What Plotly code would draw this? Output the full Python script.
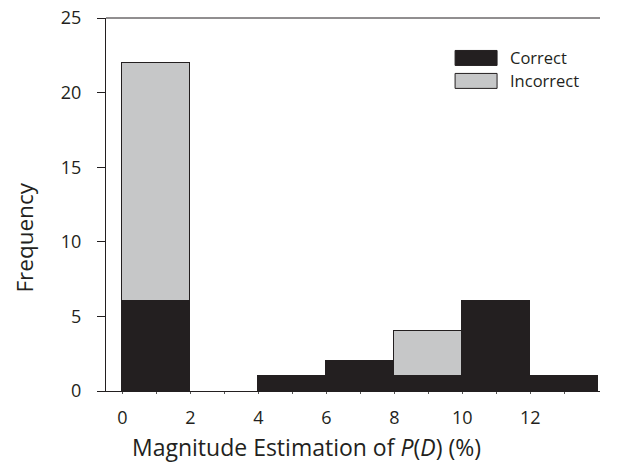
import plotly.graph_objects as go

bin_left = [0, 2, 4, 6, 8, 10, 12]
bin_width = 2
correct = [6, 0, 1, 2, 1, 6, 1]
incorrect = [16, 0, 0, 0, 3, 0, 0]
x_tick_vals = list(range(0, 14))
x_tick_text = [str(v) if v % 2 == 0 else "" for v in x_tick_vals]
y_tick_vals = [0, 5, 10, 15, 20, 25]
legend_labels = ["Correct", "Incorrect"]
x_title = "Magnitude Estimation of <i>P</i>(<i>D</i>) (%)"
y_title = "Frequency"

BLACK = "#231f20"
GREY = "#c6c7c8"
FONT = "Open Sans, Noto Sans, sans-serif"


def nz(vals):
    return [v if v else None for v in vals]


fig = go.Figure()
fig.add_trace(go.Bar(x=bin_left, y=nz(correct), width=bin_width, offset=0, name=legend_labels[0],
                     marker=dict(color=BLACK, line=dict(color=BLACK, width=1)), showlegend=False))
fig.add_trace(go.Bar(x=bin_left, y=nz(incorrect), width=bin_width, offset=0, name=legend_labels[1],
                     marker=dict(color=GREY, line=dict(color=BLACK, width=1)), showlegend=False))

# plot area (viewport px): page body has an 8px margin
PL, PR, PT, PB = 105.7, 600.0, 17.5, 391.0
W, H = PR - PL, PB - PT


def px(X):
    return (X - PL) / W


def py(Y):
    return (PB - Y) / H


fig.update_layout(
    barmode="stack", bargap=0,
    width=622, height=468,
    margin=dict(l=PL - 8, r=630 - PR, t=PT - 8, b=476 - PB, autoexpand=False),
    plot_bgcolor="white", paper_bgcolor="white",
    font=dict(family=FONT, size=18, color="#231f20"),
    xaxis=dict(range=[-0.48, 14.05], tickvals=x_tick_vals, ticktext=x_tick_text,
               ticks="outside", ticklen=2, tickcolor="#555555", showline=True, linecolor=BLACK,
               linewidth=1, showgrid=False, zeroline=False, automargin=False,
               ticklabelstandoff=8, ticklabeloverflow="allow"),
    yaxis=dict(range=[0, 25], tickvals=y_tick_vals,
               ticktext=[f"{v}\u2002\u2009" for v in y_tick_vals],
               ticks="outside", ticklen=8, tickcolor=BLACK,
               showline=True, linecolor=BLACK, linewidth=1, showgrid=False, zeroline=False,
               automargin=False, ticklabeloverflow="allow"),
)

# top frame line
fig.add_shape(type="line", xref="paper", yref="paper", x0=0, x1=1, y0=1, y1=1,
              line=dict(color=BLACK, width=1))

# axis titles
fig.add_annotation(xref="paper", yref="paper", x=px(306.5), y=py(447), text=x_title,
                   showarrow=False, xanchor="center", yanchor="middle", font=dict(size=23))
fig.add_annotation(xref="paper", yref="paper", x=px(24), y=py(237), text=y_title, textangle=-90,
                   showarrow=False, xanchor="center", yanchor="middle", font=dict(size=22.5))

# legend swatches and labels (positions in viewport px)
legend_colors = [BLACK, GREY]
for i, (label, col) in enumerate(zip(legend_labels, legend_colors)):
    top = 50 + i * 23
    bot = top + 15
    fig.add_shape(type="rect", xref="paper", yref="paper",
                  x0=px(455), x1=px(497), y0=py(bot), y1=py(top),
                  fillcolor=col, line=dict(color=BLACK, width=1))
    fig.add_annotation(xref="paper", yref="paper", x=px(508), y=py(top + 7.5), text=label,
                       showarrow=False, xanchor="left", yanchor="middle", font=dict(size=16.5))

fig.write_html("out.html")
